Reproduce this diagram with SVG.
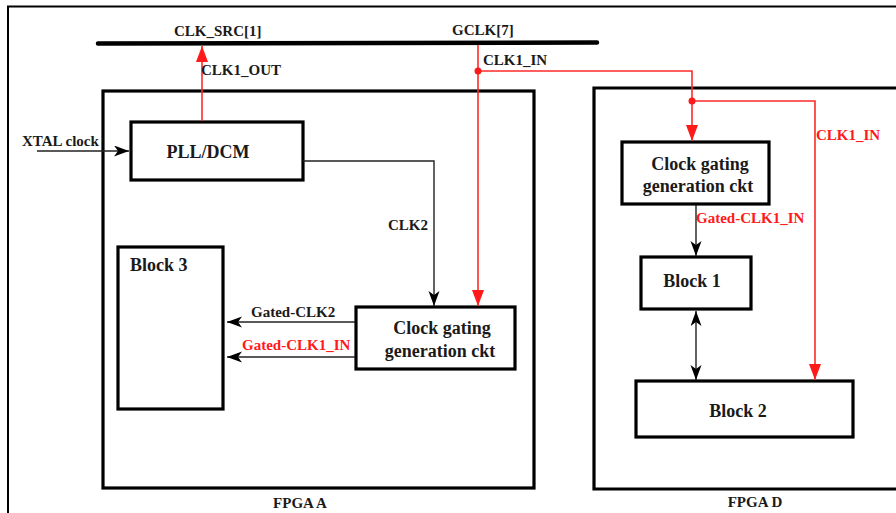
<svg xmlns="http://www.w3.org/2000/svg" width="896" height="513" viewBox="0 0 896 513">
<style>
.box{fill:#fff;stroke:#000;stroke-width:3.2}
.fpga{fill:none;stroke:#000;stroke-width:3.2}
.t{font-family:"Liberation Serif","Times New Roman",serif;font-weight:bold;fill:#1a1a1a}
.big{font-size:18px}
.lbl{font-size:15px}
.red{fill:#ff1a1a}
.bl{fill:none;stroke:#222;stroke-width:1.4}
.rl{fill:none;stroke:#ff2a2a;stroke-width:1.6}
</style>
<defs>
<marker id="ab" markerUnits="userSpaceOnUse" markerWidth="16" markerHeight="12" refX="15" refY="5.5" orient="auto-start-reverse" viewBox="0 0 16 12">
<path d="M0,0 L15,5.5 L0,11 L4,5.5 Z" fill="#000"/>
</marker>
<marker id="ar" markerUnits="userSpaceOnUse" markerWidth="17" markerHeight="13" refX="16" refY="6" orient="auto" viewBox="0 0 17 13">
<path d="M0,0 L16,6 L0,12 Z" fill="#ff1a1a"/>
</marker>
</defs>
<rect width="896" height="513" fill="#fff"/>
<g id="frame">
<path d="M8,513 V6.5 H896" fill="none" stroke="#000" stroke-width="2"/>
</g>
<g id="bus">
<line x1="98" y1="43.5" x2="597" y2="42.5" stroke="#000" stroke-width="4.5" stroke-linecap="round"/>
<text class="t lbl" x="174" y="36">CLK_SRC[1]</text>
<text class="t lbl" x="452" y="35">GCLK[7]</text>
</g>
<g id="fpgaA">
<rect class="fpga" x="103" y="91" width="431" height="397"/>
<text class="t lbl" x="300" y="508" text-anchor="middle">FPGA A</text>
</g>
<g id="fpgaD">
<path class="fpga" d="M898,88 H594 V489 H898"/>
<text class="t lbl" x="755" y="507" text-anchor="middle">FPGA D</text>
</g>
<g id="pll">
<rect class="box" x="131" y="122" width="172" height="58"/>
<text class="t big" x="208" y="158" text-anchor="middle">PLL/DCM</text>
</g>
<g id="block3">
<rect class="box" x="118" y="247" width="105" height="162"/>
<text class="t big" x="130" y="271">Block 3</text>
</g>
<g id="cgA">
<rect class="box" x="356" y="307" width="159" height="62"/>
<text class="t big" x="442" y="334" text-anchor="middle">Clock gating</text>
<text class="t big" x="440" y="357" text-anchor="middle">generation ckt</text>
</g>
<g id="cgD">
<rect class="box" x="622" y="142" width="147" height="62"/>
<text class="t big" x="700" y="170" text-anchor="middle">Clock gating</text>
<text class="t big" x="698" y="192" text-anchor="middle">generation ckt</text>
</g>
<g id="block1">
<rect class="box" x="641" y="257" width="110" height="52"/>
<text class="t big" x="692" y="287" text-anchor="middle">Block 1</text>
</g>
<g id="block2">
<rect class="box" x="636" y="381" width="217" height="56"/>
<text class="t big" x="738" y="417" text-anchor="middle">Block 2</text>
</g>
<g id="connectors">
<line class="rl" x1="202" y1="121" x2="202" y2="46" marker-end="url(#ar)"/>
<text class="t lbl" x="201" y="75">CLK1_OUT</text>
<line class="bl" x1="37" y1="151" x2="129" y2="151" marker-end="url(#ab)"/>
<text class="t lbl" x="22" y="146">XTAL clock</text>
<path class="bl" d="M303,161 H434 V306" marker-end="url(#ab)"/>
<text class="t lbl" x="388" y="230">CLK2</text>
<path class="rl" d="M478,45 V306" marker-end="url(#ar)"/>
<path class="rl" d="M478,71 H692 V141" marker-end="url(#ar)"/>
<path class="rl" d="M692,101 H815 V380" marker-end="url(#ar)"/>
<circle cx="478" cy="71" r="3.5" fill="#ff1a1a"/>
<circle cx="692" cy="101" r="3.5" fill="#ff1a1a"/>
<text class="t lbl" x="483" y="65">CLK1_IN</text>
<text class="t lbl red" x="816" y="140">CLK1_IN</text>
<line class="bl" x1="355" y1="322" x2="227" y2="322" marker-end="url(#ab)"/>
<text class="t lbl" x="251" y="317">Gated-CLK2</text>
<line class="bl" x1="355" y1="357" x2="227" y2="357" marker-end="url(#ab)"/>
<text class="t lbl red" x="242" y="350">Gated-CLK1_IN</text>
<line class="bl" x1="696" y1="205" x2="696" y2="256" marker-end="url(#ab)"/>
<text class="t lbl red" x="696" y="223">Gated-CLK1_IN</text>
<line class="bl" x1="696" y1="311" x2="696" y2="380" marker-start="url(#ab)" marker-end="url(#ab)"/>
</g>
</svg>
